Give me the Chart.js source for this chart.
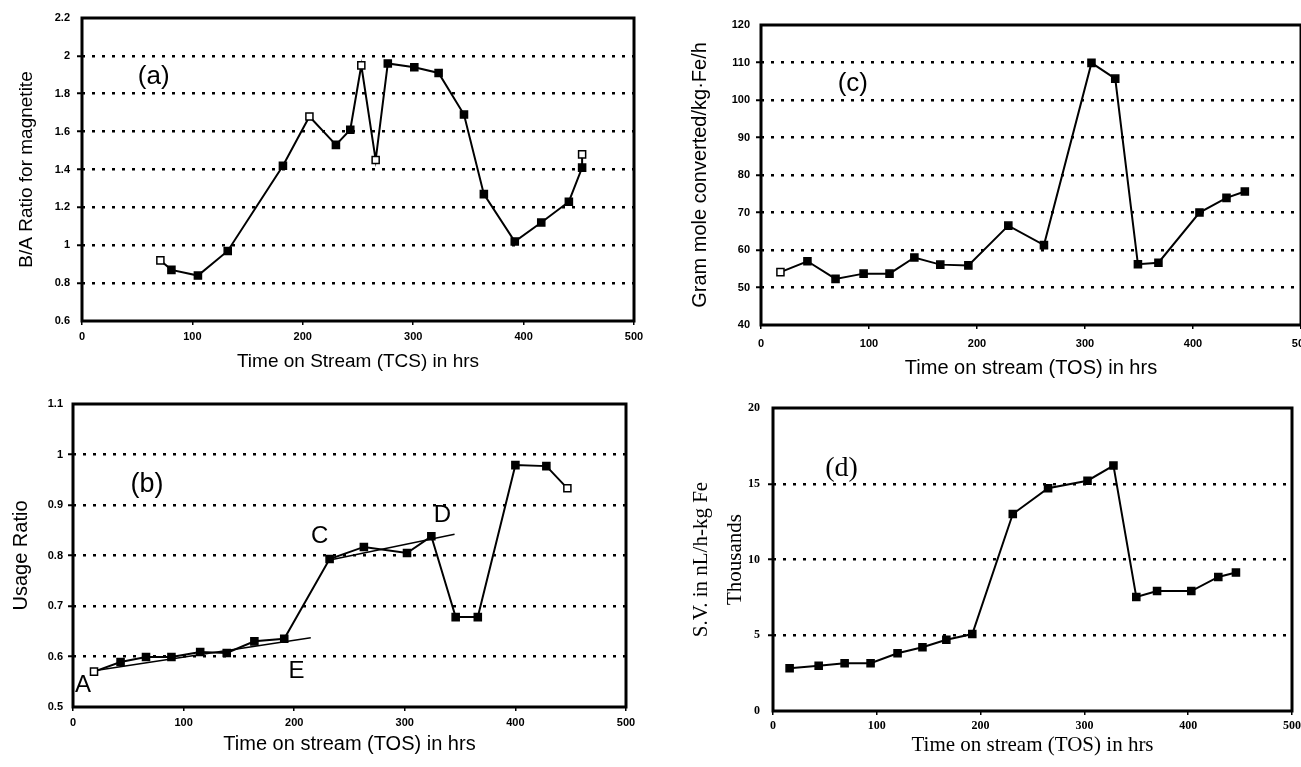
<!DOCTYPE html>
<html>
<head>
<meta charset="utf-8">
<title>Time on stream panels</title>
<script src="https://cdn.jsdelivr.net/npm/chart.js@4.4.0/dist/chart.umd.min.js"></script>
<style>
  html, body { margin: 0; padding: 0; background: #fff; }
  body { width: 1301px; height: 767px; overflow: hidden; position: relative; }
  canvas { position: absolute; }
</style>
</head>
<body>
<canvas id="chartA" width="650" height="385" style="left:0;top:0"></canvas>
<canvas id="chartC" width="670" height="385" style="left:650px;top:0"></canvas>
<canvas id="chartB" width="650" height="382" style="left:0;top:385px"></canvas>
<canvas id="chartD" width="670" height="382" style="left:650px;top:385px"></canvas>
<script>
// x axis (all panels)
const tosMin = 0;
const tosMax = 500;
const tosStep = 100;

// Panel (a) - B/A ratio for magnetite
const tosA = [71, 81, 105, 132, 182, 206, 230, 243, 253, 266, 277, 301, 323, 346, 364, 392, 416, 441, 453, 453];
const ratioA = [0.92, 0.87, 0.84, 0.97, 1.42, 1.68, 1.53, 1.61, 1.95, 1.45, 1.96, 1.94, 1.91, 1.69, 1.27, 1.02, 1.12, 1.23, 1.41, 1.48];
const openA = [1, 0, 0, 0, 0, 1, 0, 0, 1, 1, 0, 0, 0, 0, 0, 0, 0, 0, 0, 1];

// Panel (b) - usage ratio, with the two fitted lines A-E and C-D
const tosB = [19, 43, 66, 89, 115, 139, 164, 191, 232, 263, 302, 324, 346, 366, 400, 428, 447];
const usageB = [0.570, 0.589, 0.599, 0.599, 0.609, 0.607, 0.630, 0.635, 0.793, 0.817, 0.805, 0.838, 0.678, 0.678, 0.979, 0.977, 0.933];
const openB = [1, 0, 0, 0, 0, 0, 0, 0, 0, 0, 0, 0, 0, 0, 0, 0, 1];
const fitAEx = [16, 215];
const fitAEy = [0.571, 0.637];
const fitCDx = [230, 345];
const fitCDy = [0.790, 0.842];

// Panel (c) - gram mole converted
const tosC = [18, 43, 69, 95, 119, 142, 166, 192, 229, 262, 306, 328, 349, 368, 406, 431, 448];
const gramC = [54.1, 57.0, 52.3, 53.7, 53.7, 58.0, 56.1, 55.9, 66.5, 61.3, 109.9, 105.7, 56.2, 56.6, 70.0, 73.9, 75.6];
const openC = [1, 0, 0, 0, 0, 0, 0, 0, 0, 0, 0, 0, 0, 0, 0, 0, 0];

// Panel (d) - space velocity (thousands)
const tosD = [16, 44, 69, 94, 120, 144, 167, 192, 231, 265, 303, 328, 350, 370, 403, 429, 446];
const svD = [2.82, 2.99, 3.15, 3.15, 3.81, 4.21, 4.70, 5.08, 13.0, 14.7, 15.2, 16.2, 7.52, 7.92, 7.92, 8.85, 9.14];
const openD = [0, 0, 0, 0, 0, 0, 0, 0, 0, 0, 0, 0, 0, 0, 0, 0, 0];

const SANS = '"Liberation Sans", Arial, sans-serif';
const SERIF = '"Liberation Serif", "DejaVu Serif", serif';

function toPoints(xs, ys) {
    return xs.map((x, i) => ({ x: x, y: ys[i] }));
}

// black frame round the plot area
const framePlugin = {
    id: 'frame',
    beforeDatasetsDraw(chart) {
        const ctx = chart.ctx;
        const a = chart.chartArea;
        ctx.save();
        ctx.strokeStyle = '#000';
        ctx.lineWidth = 3;
        ctx.strokeRect(a.left, a.top, a.right - a.left, a.bottom - a.top);
        ctx.restore();
    }
};

// text placed in data coordinates: panel letters and A..E
function notesPlugin(items) {
    return {
        id: 'notes',
        afterDatasetsDraw(chart) {
            const ctx = chart.ctx;
            const xs = chart.scales.x;
            const ys = chart.scales.y;
            ctx.save();
            ctx.fillStyle = '#000';
            ctx.textAlign = 'center';
            ctx.textBaseline = 'middle';
            items.forEach(n => {
                ctx.font = n.font;
                ctx.fillText(n.text, xs.getPixelForValue(n.x), ys.getPixelForValue(n.y));
            });
            ctx.restore();
        }
    };
}

function makePanel(id, p) {
    const family = p.serif ? SERIF : SANS;
    const datasets = [{
        data: toPoints(p.xs, p.ys),
        borderColor: '#000',
        borderWidth: 2,
        tension: 0,
        pointStyle: 'rect',
        pointRadius: 5,
        pointBorderWidth: 1.5,
        pointBorderColor: '#000',
        pointBackgroundColor: p.open.map(o => o ? '#fff' : '#000')
    }];
    (p.extra || []).forEach(e => {
        datasets.push({
            data: toPoints(e.xs, e.ys),
            borderColor: '#000',
            borderWidth: 1.5,
            pointRadius: 0
        });
    });

    const isEdge = v => Math.abs(v - p.yMin) < 1e-9 || Math.abs(v - p.yMax) < 1e-9;

    new Chart(document.getElementById(id), {
        type: 'line',
        data: { datasets: datasets },
        plugins: [framePlugin, notesPlugin(p.notes)],
        options: {
            responsive: false,
            animation: false,
            devicePixelRatio: 1,
            layout: { padding: p.padding },
            plugins: {
                legend: { display: false },
                tooltip: { enabled: false }
            },
            scales: {
                x: {
                    type: 'linear',
                    min: tosMin,
                    max: tosMax,
                    afterFit: s => { s.height = p.xHeight; },
                    border: { display: false },
                    grid: {
                        drawOnChartArea: false,
                        drawTicks: true,
                        tickLength: 4,
                        color: '#000',
                        lineWidth: 1.5
                    },
                    ticks: {
                        stepSize: tosStep,
                        padding: p.xTickPad,
                        color: '#000',
                        maxRotation: 0,
                        font: { family: family, size: p.serif ? 12 : 11, weight: 'bold' }
                    },
                    title: {
                        display: true,
                        text: p.xTitle,
                        color: '#000',
                        padding: { top: 0, bottom: p.xTitlePad },
                        font: { family: family, size: p.titleSize, lineHeight: 1.2 }
                    }
                },
                y: {
                    min: p.yMin,
                    max: p.yMax,
                    afterFit: s => { s.width = p.yWidth; },
                    // in v4 the grid line dash comes from border.dash
                    border: { display: false, dash: [3, 7] },
                    grid: {
                        color: ctx => isEdge(ctx.tick.value) ? 'rgba(0,0,0,0)' : '#000',
                        lineWidth: 2.5,
                        drawTicks: true,
                        tickLength: 5,
                        tickWidth: 2,
                        tickBorderDash: []
                    },
                    ticks: {
                        stepSize: p.yStep,
                        padding: p.yTickPad,
                        color: '#000',
                        font: { family: family, size: p.serif ? 12 : 11, weight: 'bold' },
                        callback: v => String(+Number(v).toFixed(2))
                    },
                    title: {
                        display: true,
                        text: p.yTitle,
                        color: '#000',
                        padding: { top: p.yTitlePad, bottom: 0 },
                        font: { family: family, size: p.titleSize, lineHeight: p.yLineHeight || 1.2 }
                    }
                }
            }
        }
    });
}

makePanel('chartA', {
    xs: tosA, ys: ratioA, open: openA,
    yMin: 0.6, yMax: 2.2, yStep: 0.2,
    yTitle: 'B/A Ratio for magnetite',
    xTitle: 'Time on Stream (TCS) in hrs',
    padding: { left: 0, top: 18, right: 16, bottom: 0 },
    yWidth: 82, xHeight: 64,
    yTickPad: 7, xTickPad: 5,
    yTitlePad: 15, xTitlePad: 12,
    titleSize: 19,
    notes: [{ text: '(a)', x: 65, y: 1.89, font: '26px ' + SANS }]
});

makePanel('chartC', {
    xs: tosC, ys: gramC, open: openC,
    yMin: 40, yMax: 120, yStep: 10,
    yTitle: 'Gram mole converted/kg\u00b7Fe/h',
    xTitle: 'Time on stream (TOS) in hrs',
    padding: { left: 0, top: 25, right: 19, bottom: 0 },
    yWidth: 111, xHeight: 60,
    yTickPad: 6, xTickPad: 8,
    yTitlePad: 38, xTitlePad: 5,
    titleSize: 20,
    notes: [{ text: '(c)', x: 85, y: 104.3, font: '26px ' + SANS }]
});

makePanel('chartB', {
    xs: tosB, ys: usageB, open: openB,
    extra: [{ xs: fitAEx, ys: fitAEy }, { xs: fitCDx, ys: fitCDy }],
    yMin: 0.5, yMax: 1.1, yStep: 0.1,
    yTitle: 'Usage Ratio',
    xTitle: 'Time on stream (TOS) in hrs',
    padding: { left: 0, top: 19, right: 24, bottom: 0 },
    yWidth: 73, xHeight: 60,
    yTickPad: 5, xTickPad: 5,
    yTitlePad: 9, xTitlePad: 11,
    titleSize: 20,
    notes: [
        { text: '(b)', x: 67, y: 0.94, font: '27px ' + SANS },
        { text: 'A', x: 9, y: 0.543, font: '24px ' + SANS },
        { text: 'E', x: 202, y: 0.570, font: '24px ' + SANS },
        { text: 'C', x: 223, y: 0.837, font: '24px ' + SANS },
        { text: 'D', x: 334, y: 0.880, font: '24px ' + SANS }
    ]
});

makePanel('chartD', {
    serif: true,
    xs: tosD, ys: svD, open: openD,
    yMin: 0, yMax: 20, yStep: 5,
    yTitle: ['S.V. in nL/h-kg Fe', 'Thousands'],
    yLineHeight: 1.6,
    xTitle: 'Time on stream (TOS) in hrs',
    padding: { left: 0, top: 23, right: 28, bottom: 0 },
    yWidth: 123, xHeight: 56,
    yTickPad: 8, xTickPad: 4,
    yTitlePad: 35, xTitlePad: 9,
    titleSize: 21,
    notes: [{ text: '(d)', x: 66, y: 16.0, font: '28px ' + SERIF }]
});
</script>
</body>
</html>
